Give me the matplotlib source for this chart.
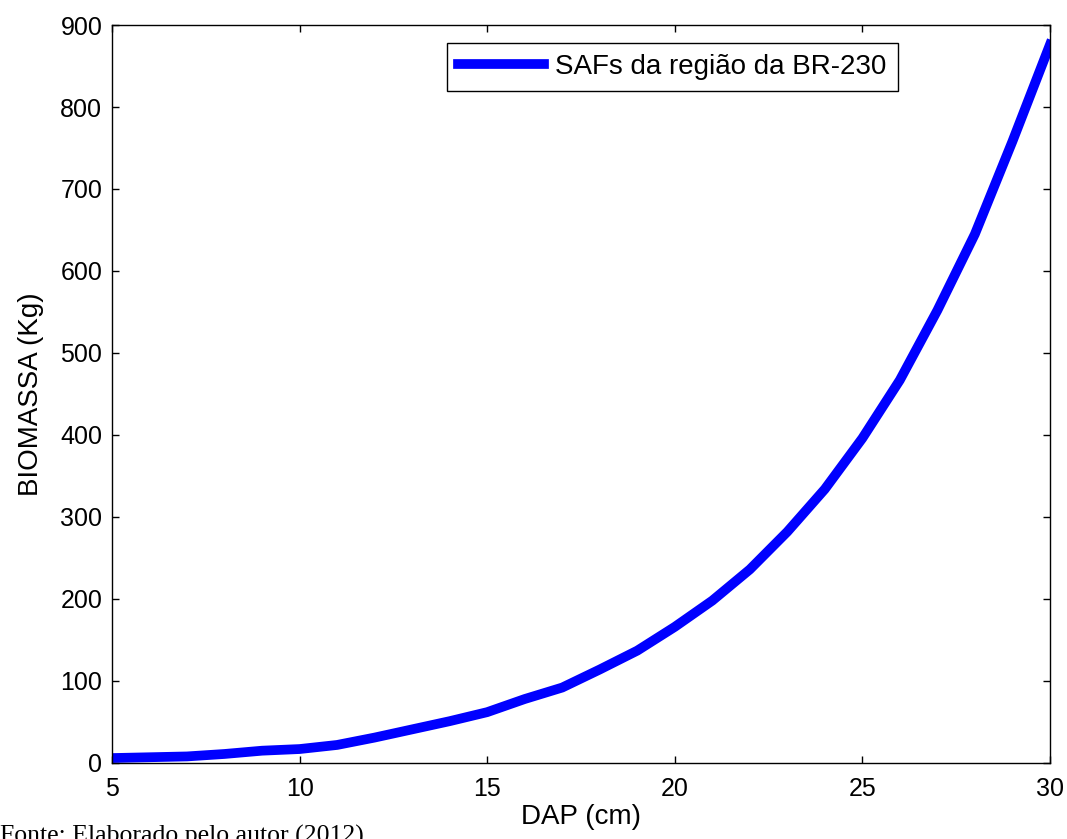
import matplotlib
matplotlib.use("Agg")
import matplotlib.pyplot as plt

# DAP (cm) vs biomassa estimada (kg)
dap = [5, 6, 7, 8, 9, 10, 11, 12, 13, 14, 15, 16, 17, 18, 19, 20,
       21, 22, 23, 24, 25, 26, 27, 28, 29, 30]
biomassa = [6, 7, 8, 11, 15, 17, 22, 31, 41, 51, 62, 78, 92, 114, 137, 166,
            198, 236, 282, 334, 396, 467, 552, 645, 758, 876]

xticks = [5, 10, 15, 20, 25, 30]
yticks = [0, 100, 200, 300, 400, 500, 600, 700, 800, 900]

plt.rcParams["font.family"] = ["Liberation Sans", "DejaVu Sans"]

fig = plt.figure(figsize=(10.67, 8.39), dpi=100)
ax = fig.add_axes([0.105, 0.0906, 0.879, 0.8796])

ax.plot(dap, biomassa, color="#0000ff", linewidth=7,
        solid_joinstyle="miter", label="SAFs da região da BR-230")

ax.set_xlim(5, 30)
ax.set_ylim(0, 900)
ax.set_xticks(xticks)
ax.set_yticks(yticks)
ax.tick_params(direction="in", length=5, width=1, top=True, right=True,
               labelsize=18)
ax.tick_params(axis="x", pad=10)
ax.tick_params(axis="y", pad=7)
for s in ax.spines.values():
    s.set_linewidth(1)

ax.set_xlabel("DAP (cm)", fontsize=20, labelpad=2)
ax.set_ylabel("BIOMASSA (Kg)", fontsize=20, labelpad=12)

leg = ax.legend(loc="upper left", bbox_to_anchor=(0.357, 0.976),
                borderaxespad=0, fontsize=20, handlelength=3.1,
                handletextpad=0.4, borderpad=0.4, fancybox=False,
                framealpha=1, edgecolor="black")
leg.get_frame().set_linewidth(1)

fig.text(0.0, 1 - 825 / 839, "Fonte: Elaborado pelo autor (2012)",
         family="Liberation Serif", fontsize=18.5, va="top", ha="left")

fig.savefig("out.png", dpi=100)
